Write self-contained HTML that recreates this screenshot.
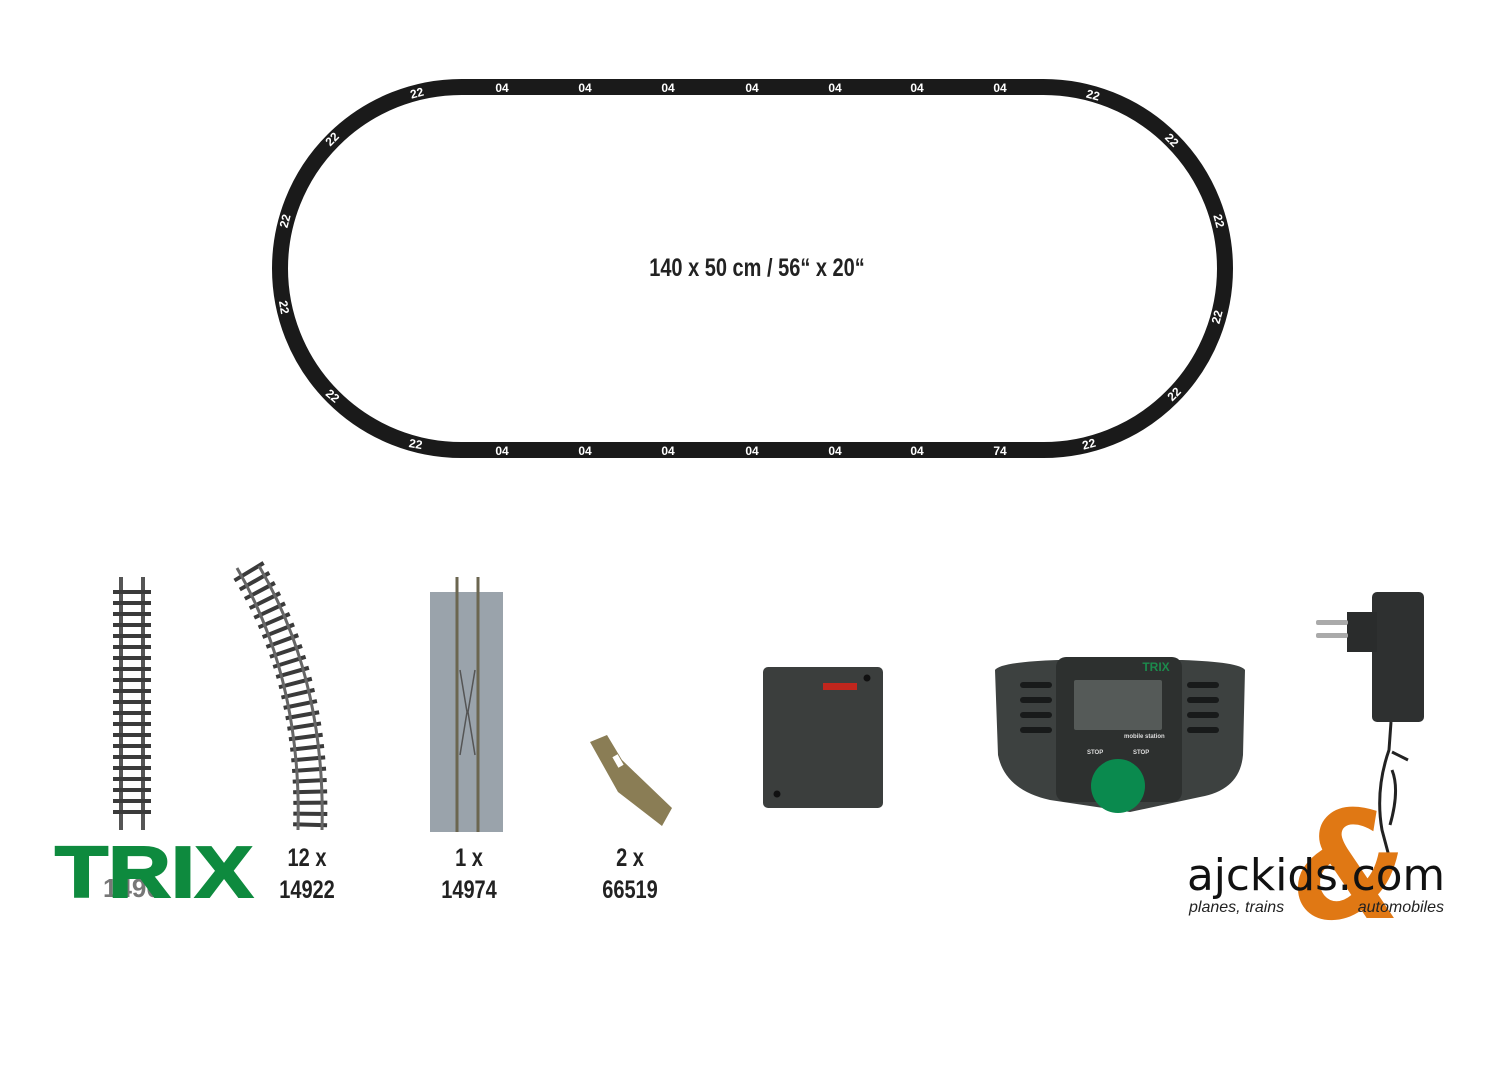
<!DOCTYPE html>
<html><head><meta charset="utf-8"><style>
body{margin:0;background:#fff;width:1500px;height:1069px;overflow:hidden}
svg{display:block}
.c{font-family:"Liberation Sans",sans-serif;font-weight:bold}
</style></head><body>
<svg width="1500" height="1069" viewBox="0 0 1500 1069" xmlns="http://www.w3.org/2000/svg">
<path d="M461.5 87 H1043.5 A181.5 181.5 0 0 1 1043.5 450 H461.5 A181.5 181.5 0 0 1 461.5 87 Z" fill="none" stroke="#1a1a1a" stroke-width="16"/>
<g class="c" fill="#fff" font-size="12" text-anchor="middle">
<text x="502" y="92">04</text><text x="585" y="92">04</text><text x="668" y="92">04</text><text x="752" y="92">04</text><text x="835" y="92">04</text><text x="917" y="92">04</text><text x="1000" y="92">04</text>
<text x="502" y="455">04</text><text x="585" y="455">04</text><text x="668" y="455">04</text><text x="752" y="455">04</text><text x="835" y="455">04</text><text x="917" y="455">04</text><text x="1000" y="455">74</text>
<text transform="translate(418,97) rotate(-15)">22</text>
<text transform="translate(335,142) rotate(-45)">22</text>
<text transform="translate(289,222) rotate(-75)">22</text>
<text transform="translate(280,308) rotate(80)">22</text>
<text transform="translate(330,399) rotate(40)">22</text>
<text transform="translate(415,448) rotate(10)">22</text>
<text transform="translate(1092,99) rotate(15)">22</text>
<text transform="translate(1169,143) rotate(45)">22</text>
<text transform="translate(1215,222) rotate(75)">22</text>
<text transform="translate(1221,318) rotate(-75)">22</text>
<text transform="translate(1177,397) rotate(-45)">22</text>
<text transform="translate(1090,448) rotate(-15)">22</text>
</g>
<text class="c" x="757" y="276" font-size="25" text-anchor="middle" fill="#222" transform="translate(757,0) scale(0.8,1) translate(-757,0)">140 x 50 cm / 56“ x 20“</text>

<!-- straight track -->
<g>
<rect x="119" y="577" width="4" height="253" fill="#555"/><rect x="141" y="577" width="4" height="253" fill="#555"/>
<g fill="#3a3a3a">
<rect x="113" y="590" width="38" height="4"/><rect x="113" y="601" width="38" height="4"/><rect x="113" y="612" width="38" height="4"/><rect x="113" y="623" width="38" height="4"/><rect x="113" y="634" width="38" height="4"/><rect x="113" y="645" width="38" height="4"/><rect x="113" y="656" width="38" height="4"/><rect x="113" y="667" width="38" height="4"/><rect x="113" y="678" width="38" height="4"/><rect x="113" y="689" width="38" height="4"/><rect x="113" y="700" width="38" height="4"/><rect x="113" y="711" width="38" height="4"/><rect x="113" y="722" width="38" height="4"/><rect x="113" y="733" width="38" height="4"/><rect x="113" y="744" width="38" height="4"/><rect x="113" y="755" width="38" height="4"/><rect x="113" y="766" width="38" height="4"/><rect x="113" y="777" width="38" height="4"/><rect x="113" y="788" width="38" height="4"/><rect x="113" y="799" width="38" height="4"/><rect x="113" y="810" width="38" height="4"/>
</g></g>
<!-- curved track -->
<path d="M248 570 Q315 680 310 828" fill="none" stroke="#3a3a3a" stroke-width="34" stroke-dasharray="4 7"/>
<path d="M237 568 Q302 680 298 830" fill="none" stroke="#666" stroke-width="3"/>
<path d="M259 566 Q326 680 322 830" fill="none" stroke="#666" stroke-width="3"/>
<!-- uncoupler -->
<rect x="430" y="592" width="73" height="240" fill="#9aa3ab"/>
<line x1="457" y1="577" x2="457" y2="832" stroke="#6b6650" stroke-width="3"/>
<line x1="478" y1="577" x2="478" y2="832" stroke="#6b6650" stroke-width="3"/>
<path d="M460 670 L467 712 L460 755 M475 670 L468 712 L475 755" stroke="#555" fill="none" stroke-width="1.5"/>
<!-- clip -->
<path d="M590 742 L607 735 L622 760 L672 808 L662 826 L618 792 Z" fill="#8a7d55"/>
<rect x="615" y="755" width="6" height="12" fill="#fff" transform="rotate(-30 618 761)"/>
<!-- box -->
<rect x="763" y="667" width="120" height="141" rx="5" fill="#3b3e3d"/>
<rect x="823" y="683" width="34" height="7" fill="#c0261d"/>
<circle cx="867" cy="678" r="3.5" fill="#111"/><circle cx="777" cy="794" r="3.5" fill="#111"/>
<!-- mobile station -->
<path d="M995 670 Q1000 662 1058 660 L1182 660 Q1240 662 1245 670 L1243 755 Q1240 790 1200 797 L1130 812 L1050 800 Q1005 790 998 755 Z" fill="#3d4140"/>
<rect x="1056" y="657" width="126" height="145" rx="10" fill="#2d302f"/>
<rect x="1074" y="680" width="88" height="50" rx="2" fill="#555a58"/>
<text class="c" x="1156" y="671" font-size="12" fill="#1c8a4c" text-anchor="middle">TRIX</text>
<g fill="#181a1a"><rect x="1020" y="682" width="32" height="6" rx="3"/><rect x="1020" y="697" width="32" height="6" rx="3"/><rect x="1020" y="712" width="32" height="6" rx="3"/><rect x="1020" y="727" width="32" height="6" rx="3"/>
<rect x="1187" y="682" width="32" height="6" rx="3"/><rect x="1187" y="697" width="32" height="6" rx="3"/><rect x="1187" y="712" width="32" height="6" rx="3"/><rect x="1187" y="727" width="32" height="6" rx="3"/></g>
<g class="c" fill="#ddd" font-size="6"><text x="1124" y="738">mobile station</text><text x="1087" y="754">STOP</text><text x="1133" y="754">STOP</text></g>
<circle cx="1118" cy="786" r="27" fill="#0a8a4e"/>
<!-- power supply -->
<rect x="1372" y="592" width="52" height="130" rx="5" fill="#2e3030"/>
<rect x="1347" y="612" width="30" height="40" fill="#2a2c2c"/>
<rect x="1316" y="620" width="32" height="5" rx="2" fill="#aaa"/><rect x="1316" y="633" width="32" height="5" rx="2" fill="#aaa"/>
<path d="M1391 722 L1389 750 Q1375 790 1382 830 L1390 860 M1392 770 Q1400 790 1390 825 M1392 752 L1408 760" stroke="#222" stroke-width="3" fill="none"/>
<!-- TRIX logo -->
<text x="103" y="897" font-family="Liberation Sans,sans-serif" font-weight="bold" font-size="26" fill="#777">1490</text>
<text x="154" y="897" font-family="Liberation Sans,sans-serif" font-weight="900" font-size="72" fill="#0e8a3e" text-anchor="middle" textLength="198" lengthAdjust="spacingAndGlyphs" stroke="#0e8a3e" stroke-width="2">TRIX</text>
<!-- labels -->
<g class="c" font-size="25" fill="#222" text-anchor="middle">
<text transform="translate(307,866) scale(0.8,1)">12 x</text><text transform="translate(307,898) scale(0.8,1)">14922</text>
<text transform="translate(469,866) scale(0.8,1)">1 x</text><text transform="translate(469,898) scale(0.8,1)">14974</text>
<text transform="translate(630,866) scale(0.8,1)">2 x</text><text transform="translate(630,898) scale(0.8,1)">66519</text>
</g>
<!-- ajckids -->
<text x="1350" y="918" font-family="DejaVu Sans,sans-serif" font-weight="bold" font-style="italic" font-size="150" fill="#e07814" text-anchor="middle" transform="translate(1350,0) scale(0.85,1) translate(-1350,0)">&amp;</text>
<text x="1187" y="890" font-family="DejaVu Sans,sans-serif" font-size="44" fill="#111" textLength="258" lengthAdjust="spacingAndGlyphs">ajckids.com</text>
<text x="1189" y="912" font-family="Liberation Sans,sans-serif" font-style="italic" font-size="16" fill="#222">planes, trains</text>
<text x="1444" y="912" font-family="Liberation Sans,sans-serif" font-style="italic" font-size="16" fill="#222" text-anchor="end">automobiles</text>
</svg>
</body></html>
